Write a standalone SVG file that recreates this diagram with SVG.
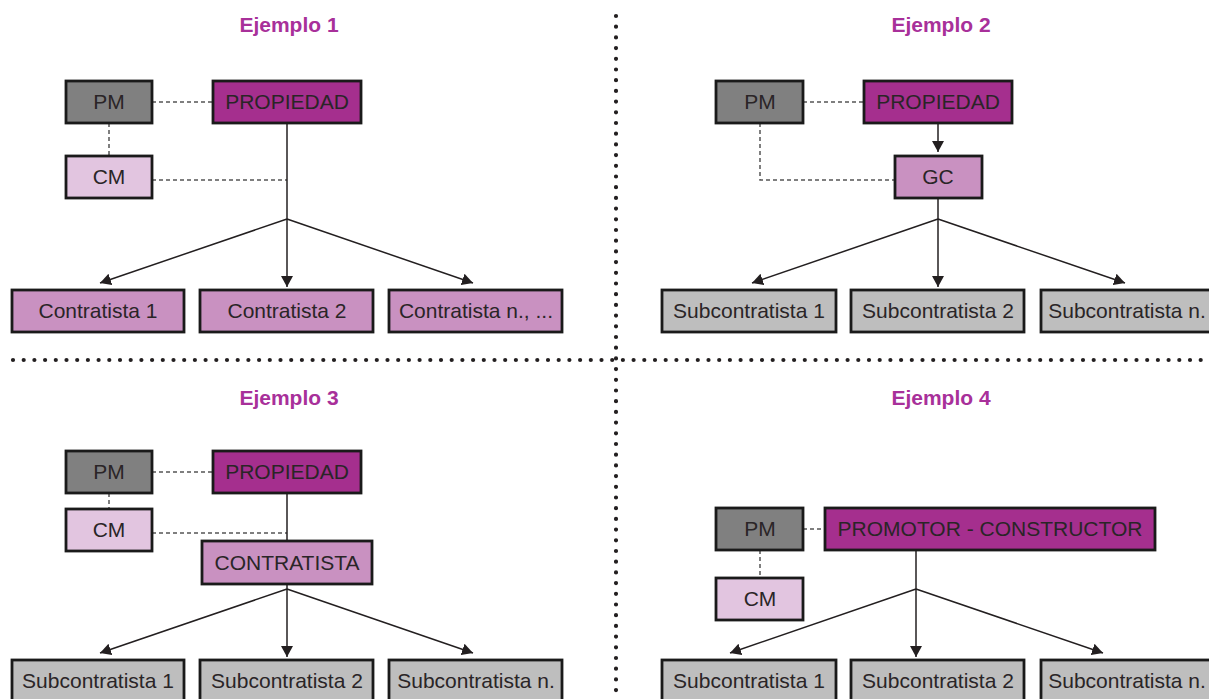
<svg xmlns="http://www.w3.org/2000/svg" width="1209" height="699" viewBox="0 0 1209 699">
<defs>
<marker id="arr" viewBox="0 0 11 12" refX="11" refY="6" markerWidth="11" markerHeight="12" orient="auto" markerUnits="userSpaceOnUse">
<path d="M0,0 L11,6 L0,12 z" fill="#231F20"/>
</marker>
<style>
.box{stroke:#1a1a1a;stroke-width:2.8}
.pm{fill:#808080}
.prop{fill:#A52F8E}
.cm{fill:#E2C5E0}
.mid{fill:#C991C1}
.gray{fill:#BEBEBE}
.lbl{font-family:"Liberation Sans",Arial,sans-serif;font-size:21px;fill:#2a2527;text-anchor:middle}
.title{font-family:"Liberation Sans",Arial,sans-serif;font-size:21px;font-weight:bold;fill:#A8309A;text-anchor:middle}
.solid{stroke:#231F20;stroke-width:1.5;fill:none}
.arrow{stroke:#231F20;stroke-width:1.5;fill:none;marker-end:url(#arr)}
.dash{stroke:#555;stroke-width:1.5;fill:none;stroke-dasharray:4 3}
.dots{stroke:#231F20;stroke-width:4.2;stroke-linecap:round;stroke-dasharray:0 10.7;fill:none}
</style>
</defs>
<rect width="1209" height="699" fill="#fff"/>

<g id="dividers">
<line class="dots" x1="616" y1="16" x2="616" y2="699"/>
<line class="dots" x1="13" y1="360" x2="1209" y2="360"/>
</g>

<g id="titles">
<text class="title" x="289" y="32">Ejemplo 1</text>
<text class="title" x="941" y="32">Ejemplo 2</text>
<text class="title" x="289" y="405">Ejemplo 3</text>
<text class="title" x="941" y="405">Ejemplo 4</text>
</g>

<g id="connectors">
<!-- Ejemplo 1 -->
<line class="dash" x1="152" y1="102" x2="213" y2="102"/>
<line class="dash" x1="109" y1="123" x2="109" y2="156"/>
<line class="dash" x1="152" y1="180" x2="287" y2="180"/>
<line class="solid" x1="287" y1="123" x2="287" y2="219"/>
<line class="arrow" x1="287" y1="219" x2="100" y2="283"/>
<line class="arrow" x1="287" y1="219" x2="287" y2="287"/>
<line class="arrow" x1="287" y1="219" x2="473" y2="283"/>
<!-- Ejemplo 2 -->
<line class="dash" x1="803" y1="102" x2="864" y2="102"/>
<polyline class="dash" points="760,123 760,180 895,180"/>
<line class="arrow" x1="938" y1="123" x2="938" y2="152"/>
<line class="solid" x1="938" y1="198" x2="938" y2="219"/>
<line class="arrow" x1="938" y1="219" x2="752" y2="283"/>
<line class="arrow" x1="938" y1="219" x2="938" y2="287"/>
<line class="arrow" x1="938" y1="219" x2="1125" y2="283"/>
<!-- Ejemplo 3 -->
<line class="dash" x1="152" y1="472" x2="213" y2="472"/>
<line class="dash" x1="109" y1="493" x2="109" y2="509"/>
<line class="dash" x1="152" y1="533" x2="287" y2="533"/>
<line class="solid" x1="287" y1="493" x2="287" y2="541"/>
<line class="solid" x1="287" y1="584" x2="287" y2="589"/>
<line class="arrow" x1="287" y1="589" x2="100" y2="653"/>
<line class="arrow" x1="287" y1="589" x2="287" y2="657"/>
<line class="arrow" x1="287" y1="589" x2="473" y2="653"/>
<!-- Ejemplo 4 -->
<line class="dash" x1="803" y1="529" x2="825" y2="529"/>
<line class="dash" x1="760" y1="550" x2="760" y2="578"/>
<line class="solid" x1="916" y1="550" x2="916" y2="589"/>
<line class="arrow" x1="916" y1="589" x2="730" y2="653"/>
<line class="arrow" x1="916" y1="589" x2="916" y2="657"/>
<line class="arrow" x1="916" y1="589" x2="1103" y2="653"/>
</g>

<!-- Ejemplo 1 nodes -->
<g id="e1-pm"><rect class="box pm" x="66" y="81" width="86" height="42"/><text class="lbl" x="109" y="109">PM</text></g>
<g id="e1-prop"><rect class="box prop" x="213" y="81" width="148" height="42"/><text class="lbl" x="287" y="109">PROPIEDAD</text></g>
<g id="e1-cm"><rect class="box cm" x="66" y="156" width="86" height="42"/><text class="lbl" x="109" y="184">CM</text></g>
<g id="e1-c1"><rect class="box mid" x="12" y="290" width="172" height="42"/><text class="lbl" x="98" y="318">Contratista 1</text></g>
<g id="e1-c2"><rect class="box mid" x="200" y="290" width="173" height="42"/><text class="lbl" x="287" y="318">Contratista 2</text></g>
<g id="e1-cn"><rect class="box mid" x="389" y="290" width="173" height="42"/><text class="lbl" x="476" y="318">Contratista n., ...</text></g>

<!-- Ejemplo 2 nodes -->
<g id="e2-pm"><rect class="box pm" x="716" y="81" width="87" height="42"/><text class="lbl" x="760" y="109">PM</text></g>
<g id="e2-prop"><rect class="box prop" x="864" y="81" width="148" height="42"/><text class="lbl" x="938" y="109">PROPIEDAD</text></g>
<g id="e2-gc"><rect class="box mid" x="895" y="156" width="87" height="42"/><text class="lbl" x="938" y="184">GC</text></g>
<g id="e2-s1"><rect class="box gray" x="662" y="290" width="174" height="42"/><text class="lbl" x="749" y="318">Subcontratista 1</text></g>
<g id="e2-s2"><rect class="box gray" x="851" y="290" width="173" height="42"/><text class="lbl" x="938" y="318">Subcontratista 2</text></g>
<g id="e2-sn"><rect class="box gray" x="1041" y="290" width="173" height="42"/><text class="lbl" x="1127" y="318">Subcontratista n.</text></g>

<!-- Ejemplo 3 nodes -->
<g id="e3-pm"><rect class="box pm" x="66" y="451" width="86" height="42"/><text class="lbl" x="109" y="479">PM</text></g>
<g id="e3-prop"><rect class="box prop" x="213" y="451" width="148" height="42"/><text class="lbl" x="287" y="479">PROPIEDAD</text></g>
<g id="e3-cm"><rect class="box cm" x="66" y="509" width="86" height="42"/><text class="lbl" x="109" y="537">CM</text></g>
<g id="e3-contr"><rect class="box mid" x="202" y="541" width="170" height="43"/><text class="lbl" x="287" y="570">CONTRATISTA</text></g>
<g id="e3-s1"><rect class="box gray" x="12" y="660" width="172" height="42"/><text class="lbl" x="98" y="688">Subcontratista 1</text></g>
<g id="e3-s2"><rect class="box gray" x="200" y="660" width="173" height="42"/><text class="lbl" x="287" y="688">Subcontratista 2</text></g>
<g id="e3-sn"><rect class="box gray" x="389" y="660" width="173" height="42"/><text class="lbl" x="476" y="688">Subcontratista n.</text></g>

<!-- Ejemplo 4 nodes -->
<g id="e4-pm"><rect class="box pm" x="716" y="508" width="87" height="42"/><text class="lbl" x="760" y="536">PM</text></g>
<g id="e4-prom"><rect class="box prop" x="825" y="508" width="330" height="42"/><text class="lbl" x="990" y="536">PROMOTOR - CONSTRUCTOR</text></g>
<g id="e4-cm"><rect class="box cm" x="716" y="578" width="87" height="42"/><text class="lbl" x="760" y="606">CM</text></g>
<g id="e4-s1"><rect class="box gray" x="662" y="660" width="174" height="42"/><text class="lbl" x="749" y="688">Subcontratista 1</text></g>
<g id="e4-s2"><rect class="box gray" x="851" y="660" width="173" height="42"/><text class="lbl" x="938" y="688">Subcontratista 2</text></g>
<g id="e4-sn"><rect class="box gray" x="1041" y="660" width="173" height="42"/><text class="lbl" x="1127" y="688">Subcontratista n.</text></g>
</svg>
